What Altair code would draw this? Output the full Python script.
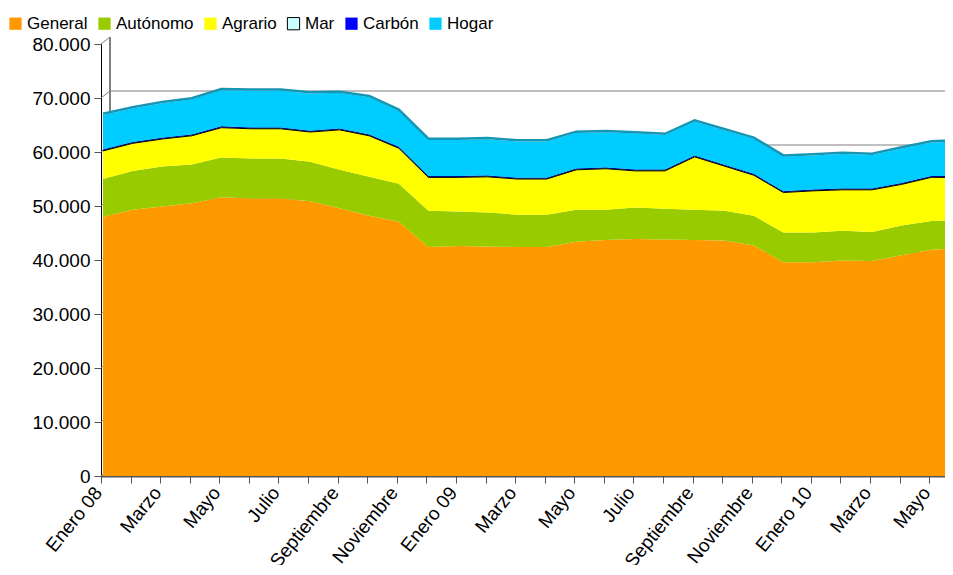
import json
import altair as alt
import pandas as pd

months = ["Enero 08", "Febrero", "Marzo", "Abril", "Mayo", "Junio", "Julio", "Agosto",
          "Septiembre", "Octubre", "Noviembre", "Diciembre",
          "Enero 09", "Febrero", "Marzo", "Abril", "Mayo", "Junio", "Julio", "Agosto",
          "Septiembre", "Octubre", "Noviembre", "Diciembre",
          "Enero 10", "Febrero", "Marzo", "Abril", "Mayo", "Junio"]
tick_labels = ["Enero 08", "", "Marzo", "", "Mayo", "", "Julio", "", "Septiembre", "", "Noviembre", "",
               "Enero 09", "", "Marzo", "", "Mayo", "", "Julio", "", "Septiembre", "", "Noviembre", "",
               "Enero 10", "", "Marzo", "", "Mayo", ""]

series = ["General", "Autónomo", "Agrario", "Mar", "Carbón", "Hogar"]
colors = ["#ff9900", "#99cc00", "#ffff00", "#ccffff", "#0000ff", "#00ccff"]
strokes = ["transparent", "transparent", "transparent", "#000000", "transparent", "transparent"]

general = [48000, 49300, 49900, 50500, 51600, 51400, 51400, 50900, 49600, 48200, 47100, 42400,
           42600, 42500, 42400, 42400, 43400, 43700, 43900, 43800, 43700, 43600, 42700, 39600,
           39600, 39900, 39800, 40900, 41900, 42200]
autonomo = [7000, 7200, 7400, 7200, 7400, 7400, 7400, 7300, 7100, 7200, 7000, 6700,
            6400, 6300, 6000, 6000, 5900, 5600, 5800, 5700, 5600, 5500, 5500, 5500,
            5500, 5500, 5400, 5500, 5300, 5200]
agrario = [5200, 5100, 5100, 5300, 5500, 5500, 5500, 5500, 7400, 7600, 6600, 6200,
           6300, 6600, 6600, 6600, 7400, 7600, 6800, 7000, 9800, 8300, 7500, 7400,
           7700, 7600, 7800, 7600, 8100, 7900]
mar = [150, 150, 150, 150, 150, 150, 150, 150, 150, 150, 150, 150,
       150, 150, 150, 150, 150, 150, 150, 150, 150, 150, 150, 150,
       150, 150, 150, 150, 150, 150]
carbon = [100, 100, 100, 100, 100, 100, 100, 100, 100, 100, 100, 100,
          100, 100, 100, 100, 100, 100, 100, 100, 100, 100, 100, 100,
          100, 100, 100, 100, 100, 100]
hogar = [6400, 6200, 6400, 6500, 6700, 6800, 6800, 6900, 6600, 6900, 6700, 6700,
         6700, 6700, 6700, 6700, 6600, 6500, 6700, 6400, 6300, 6400, 6500, 6400,
         6300, 6400, 6200, 6400, 6200, 6400]

y_ticks = [0, 10000, 20000, 30000, 40000, 50000, 60000, 70000, 80000]

values = [general, autonomo, agrario, mar, carbon, hogar]
rows = []
for si, (name, vals) in enumerate(zip(series, values)):
    for i, v in enumerate(vals):
        rows.append({"idx": i, "mes": months[i], "serie": name, "orden": si, "valor": v})
df = pd.DataFrame(rows)

tot_df = pd.DataFrame({
    "idx": list(range(len(months))),
    "total": [sum(v[i] for v in values) for i in range(len(months))],
})
grid_df = pd.DataFrame({"v": y_ticks})

PLOT_W = 844
XMAX = PLOT_W / 29.58
xscale = alt.Scale(domain=[0, XMAX], nice=False, zero=False)
yscale = alt.Scale(domain=[0, 80000], nice=False)

label_expr = json.dumps(tick_labels) + "[datum.value]"

x_axis = alt.Axis(values=list(range(29)), labelExpr=label_expr, labelAngle=-51,
                  labelAlign="right", labelBaseline="middle", labelOffset=-3,
                  labelOverlap=False, tickSize=7, labelPadding=6, grid=False,
                  domainColor="#555555", domainWidth=2, tickColor="#555555",
                  labelFontSize=19, title=None)
y_axis = alt.Axis(values=y_ticks,
                  labelExpr="replace(format(datum.value, ','), ',', '.')",
                  tickSize=7, labelPadding=4, grid=False, domainColor="#000000",
                  tickColor="#555555", labelFontSize=19, title=None)

# back wall (3D) gridlines
grid = alt.Chart(grid_df).mark_rule(
    color="#808080", strokeWidth=1, xOffset=9, x2Offset=9, yOffset=-7, y2Offset=-7, clip=True
).encode(
    x=alt.X(datum=0, type="quantitative", scale=xscale, axis=x_axis, title=None),
    x2=alt.X2(datum=30),
    y=alt.Y("v:Q", scale=yscale, axis=y_axis, title=None),
)
diag = alt.Chart(grid_df).mark_rule(
    color="#808080", strokeWidth=1, x2Offset=9, y2Offset=-7
).encode(
    x=alt.X(datum=0, type="quantitative", scale=xscale, axis=x_axis, title=None),
    x2=alt.X2(datum=0),
    y=alt.Y("v:Q", scale=yscale, axis=y_axis, title=None),
    y2=alt.Y2("v:Q"),
)
wall = alt.Chart(grid_df).mark_rule(
    color="#808080", strokeWidth=1, xOffset=9, yOffset=-7, y2Offset=-7
).encode(
    x=alt.X(datum=0, type="quantitative", scale=xscale, axis=x_axis, title=None),
    y=alt.Y(datum=0, type="quantitative", scale=yscale, axis=y_axis, title=None),
    y2=alt.Y2(datum=80000),
)

areas = alt.Chart(df).mark_area(xOffset=2, clip=True, strokeWidth=1).encode(
    x=alt.X("idx:Q", scale=xscale, axis=x_axis, title=None),
    y=alt.Y("valor:Q", stack="zero", scale=yscale, axis=y_axis, title=None),
    color=alt.Color("serie:N", scale=alt.Scale(domain=series, range=colors), sort=series,
                    legend=alt.Legend(title=None)),
    stroke=alt.Stroke("serie:N", scale=alt.Scale(domain=series, range=strokes), sort=series,
                      legend=alt.Legend(title=None)),
    order=alt.Order("orden:Q"),
)

top_edge = alt.Chart(tot_df).mark_line(
    color="#1596b4", strokeWidth=2.5, xOffset=2, yOffset=-1.2, clip=True
).encode(
    x=alt.X("idx:Q", scale=xscale, axis=x_axis, title=None),
    y=alt.Y("total:Q", scale=yscale, axis=y_axis, title=None),
)

chart = alt.layer(grid, diag, wall, areas, top_edge).properties(
    width=PLOT_W, height=432,
    autosize=alt.AutoSizeParams(type="none"),
    padding={"left": 93, "top": 36, "right": 0, "bottom": 89},
).configure_view(stroke=None).configure_axis(
    labelFont="Liberation Sans", labelColor="#000000",
).configure_legend(
    orient="none", legendX=-94, legendY=-29, direction="horizontal",
    symbolType="square", symbolSize=150, symbolStrokeWidth=1,
    labelFont="Liberation Sans", labelFontSize=17, labelColor="#000000",
    columnPadding=8, labelOffset=3, padding=0,
)

chart.save("out.html", embed_options={"renderer": "svg", "actions": False})
